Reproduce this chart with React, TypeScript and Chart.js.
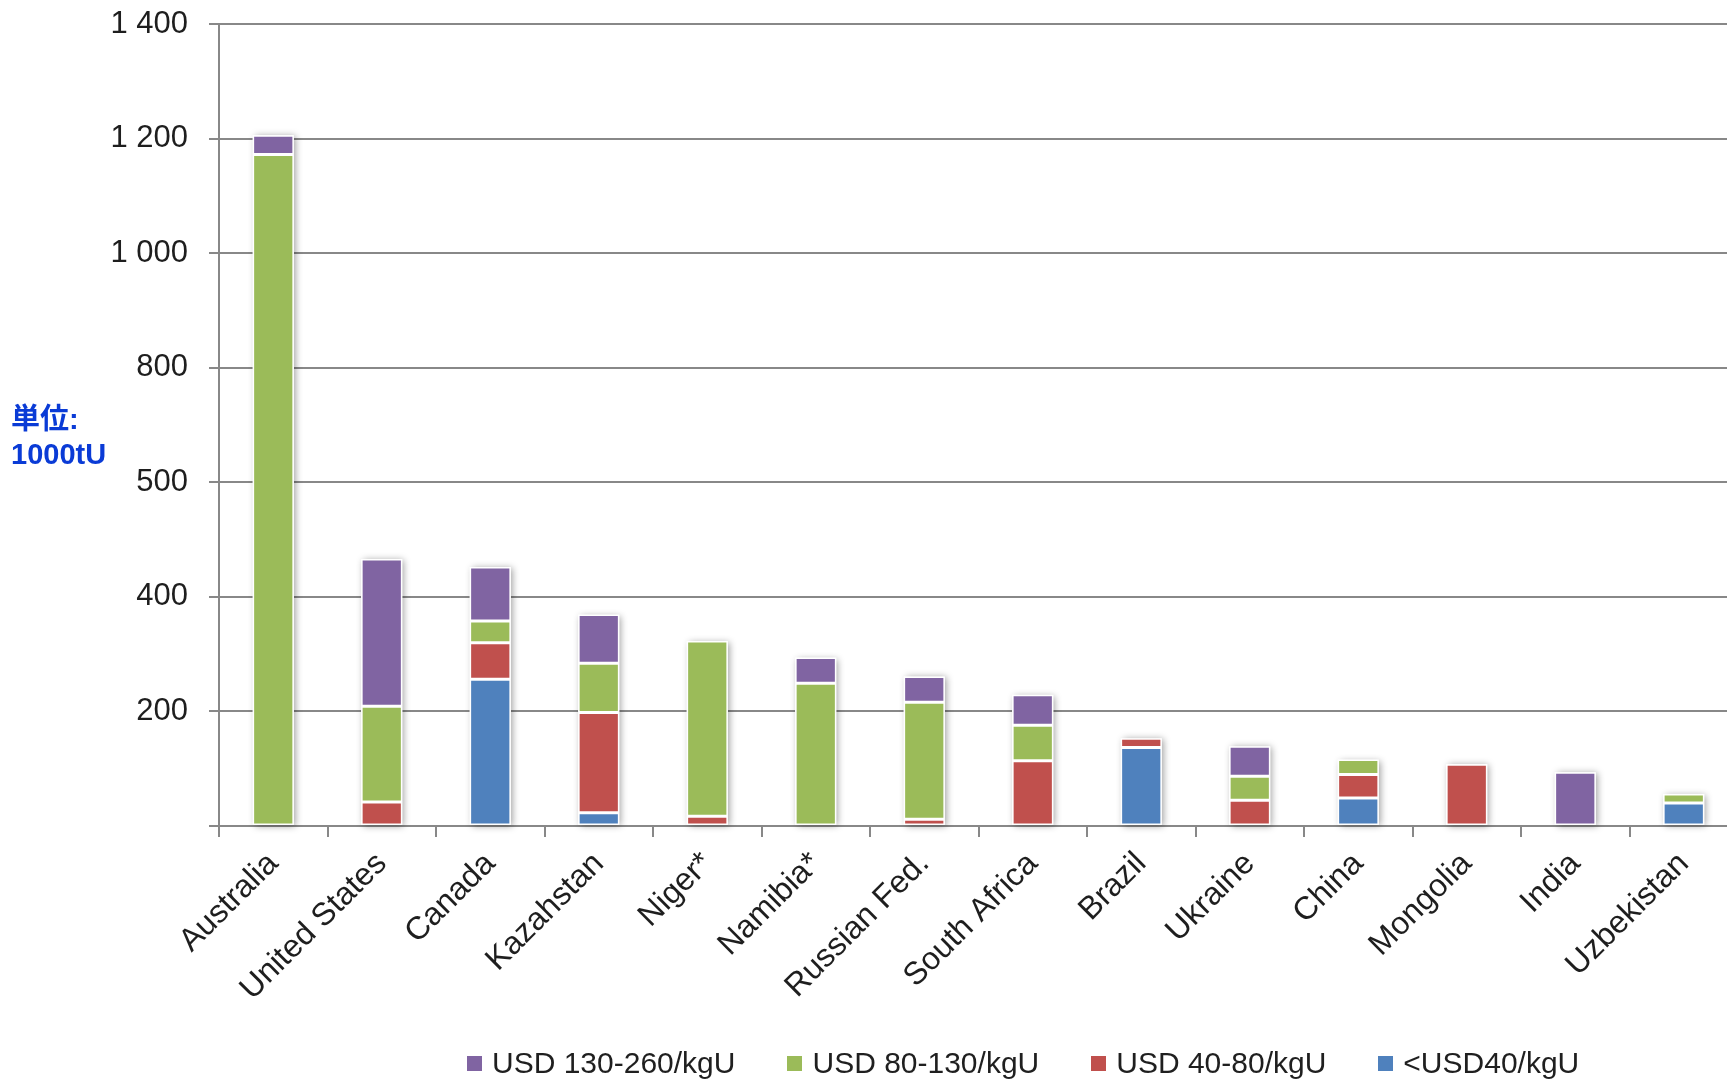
import React, { useEffect, useRef } from 'react';
import { Chart, registerables } from 'chart.js';

Chart.register(...registerables);

const categories = [
  'Australia', 'United States', 'Canada', 'Kazahstan', 'Niger*', 'Namibia*', 'Russian Fed.',
  'South Africa', 'Brazil', 'Ukraine', 'China', 'Mongolia', 'India', 'Uzbekistan',
];
const below40 = [null, null, 256, 23, null, null, null, null, 137, null, 49, null, null, 40];
const usd40to80 = [null, 42, 64, 175, 17, null, 12, 114, 16, 45, 41, 108, null, null];
const usd80to130 = [1172, 167, 38, 86, 306, 249, 204, 62, null, 42, 26, null, null, 16];
const usd130to260 = [34, 257, 94, 85, null, 45, 45, 53, null, 52, null, null, 94, null];

const seriesLabels = ['USD 130-260/kgU', 'USD 80-130/kgU', 'USD 40-80/kgU', '<USD40/kgU'];
const seriesColors = ['#8064A2', '#9BBB59', '#C0504D', '#4F81BD'];
const yTickLabels = ['', '200', '400', '500', '800', '1 000', '1 200', '1 400'];
const unitLines = ['単位:', '1000tU'];

const FONT = "'Liberation Sans', Arial, sans-serif";
const GRID = '#888888';

const shadowPlugin = {
  id: 'barShadow',
  beforeDatasetsDraw(chart: any) {
    const ctx = chart.ctx;
    const metas = chart.getSortedVisibleDatasetMetas();
    const n = chart.data.labels.length;
    for (let i = 0; i < n; i++) {
      let top = Infinity;
      let bottom = -Infinity;
      let x = 0;
      let w = 0;
      let found = false;
      for (const meta of metas) {
        const raw = chart.data.datasets[meta.index].data[i];
        if (raw === null || raw === undefined) continue;
        const el = meta.data[i];
        if (!el) continue;
        const p = el.getProps(['x', 'y', 'base', 'width'], true);
        top = Math.min(top, p.y, p.base);
        bottom = Math.max(bottom, p.y, p.base);
        x = p.x;
        w = p.width;
        found = true;
      }
      if (!found) continue;
      ctx.save();
      ctx.shadowColor = 'rgba(0,0,0,0.38)';
      ctx.shadowBlur = 7;
      ctx.shadowOffsetX = 2;
      ctx.shadowOffsetY = 1;
      ctx.fillStyle = '#ffffff';
      ctx.fillRect(x - w / 2, top, w, bottom - top);
      ctx.restore();
    }
  },
};

export default function App() {
  const canvasRef = useRef<HTMLCanvasElement | null>(null);

  useEffect(() => {
    if (!canvasRef.current) return;
    const mk = (label: string, data: (number | null)[], color: string) => ({
      label,
      data,
      backgroundColor: color,
      borderColor: '#ffffff',
      borderWidth: 1.5,
      borderSkipped: false,
      barPercentage: 0.38,
      categoryPercentage: 1,
      stack: 's',
    });
    const chart = new Chart(canvasRef.current, {
      type: 'bar',
      data: {
        labels: categories,
        datasets: [
          mk(seriesLabels[3], below40, seriesColors[3]),
          mk(seriesLabels[2], usd40to80, seriesColors[2]),
          mk(seriesLabels[1], usd80to130, seriesColors[1]),
          mk(seriesLabels[0], usd130to260, seriesColors[0]),
        ] as any,
      },
      options: {
        animation: false,
        responsive: true,
        maintainAspectRatio: false,
        layout: { padding: { top: 24, right: 2, left: 0, bottom: 0 } },
        plugins: { legend: { display: false }, tooltip: { enabled: false } },
        scales: {
          x: {
            stacked: true,
            offset: true,
            grid: {
              drawOnChartArea: false,
              drawTicks: true,
              tickLength: 11,
              color: GRID,
              lineWidth: 2,
              offset: true,
            },
            border: { color: GRID, width: 2 },
            ticks: {
              minRotation: 45,
              maxRotation: 45,
              autoSkip: false,
              padding: 8,
              color: '#1e1e1e',
              font: { family: FONT, size: 32 },
            },
            afterFit: (s: any) => {
              s.height = 259;
            },
          },
          y: {
            stacked: true,
            min: 0,
            max: 1400,
            ticks: {
              stepSize: 200,
              padding: 21,
              color: '#1e1e1e',
              font: { family: FONT, size: 31 },
              callback: (v: any) => yTickLabels[Math.round(Number(v) / 200)] ?? '',
            },
            grid: { color: GRID, lineWidth: 2, tickLength: 10, drawTicks: true },
            border: { color: GRID, width: 2 },
            afterFit: (s: any) => {
              s.width = 219;
              s.paddingTop = 0;
              s.paddingBottom = 0;
            },
          },
        },
      } as any,
      plugins: [shadowPlugin],
    });
    return () => chart.destroy();
  }, []);

  const legendOrder = [0, 1, 2, 3];

  return (
    <div
      style={{
        position: 'fixed',
        left: 0,
        top: 0,
        width: 1727,
        height: 1085,
        overflow: 'hidden',
        background: '#ffffff',
      }}
    >
      <div style={{ position: 'absolute', left: 0, top: 0, width: 1740, height: 1085 }}>
        <canvas ref={canvasRef} />
      </div>
      <div
        style={{
          position: 'absolute',
          left: 11,
          top: 402,
          color: '#0a3bd6',
          fontFamily: "'Liberation Sans', 'Noto Sans CJK JP', Arial, sans-serif",
          fontWeight: 'bold',
          fontSize: 29,
          lineHeight: '35px',
          whiteSpace: 'nowrap',
        }}
      >
        {unitLines.map((l) => (
          <div key={l}>{l}</div>
        ))}
      </div>
      <div
        style={{
          position: 'absolute',
          left: 467,
          top: 1045,
          height: 36,
          display: 'flex',
          alignItems: 'center',
          fontFamily: FONT,
          fontSize: 30,
          color: '#1f1f1f',
          whiteSpace: 'nowrap',
        }}
      >
        {legendOrder.map((i) => (
          <div key={i} style={{ display: 'flex', alignItems: 'center', marginRight: 52 }}>
            <span
              style={{
                display: 'inline-block',
                width: 15,
                height: 15,
                background: seriesColors[i],
                marginRight: 10,
              }}
            />
            <span>{seriesLabels[i]}</span>
          </div>
        ))}
      </div>
    </div>
  );
}
